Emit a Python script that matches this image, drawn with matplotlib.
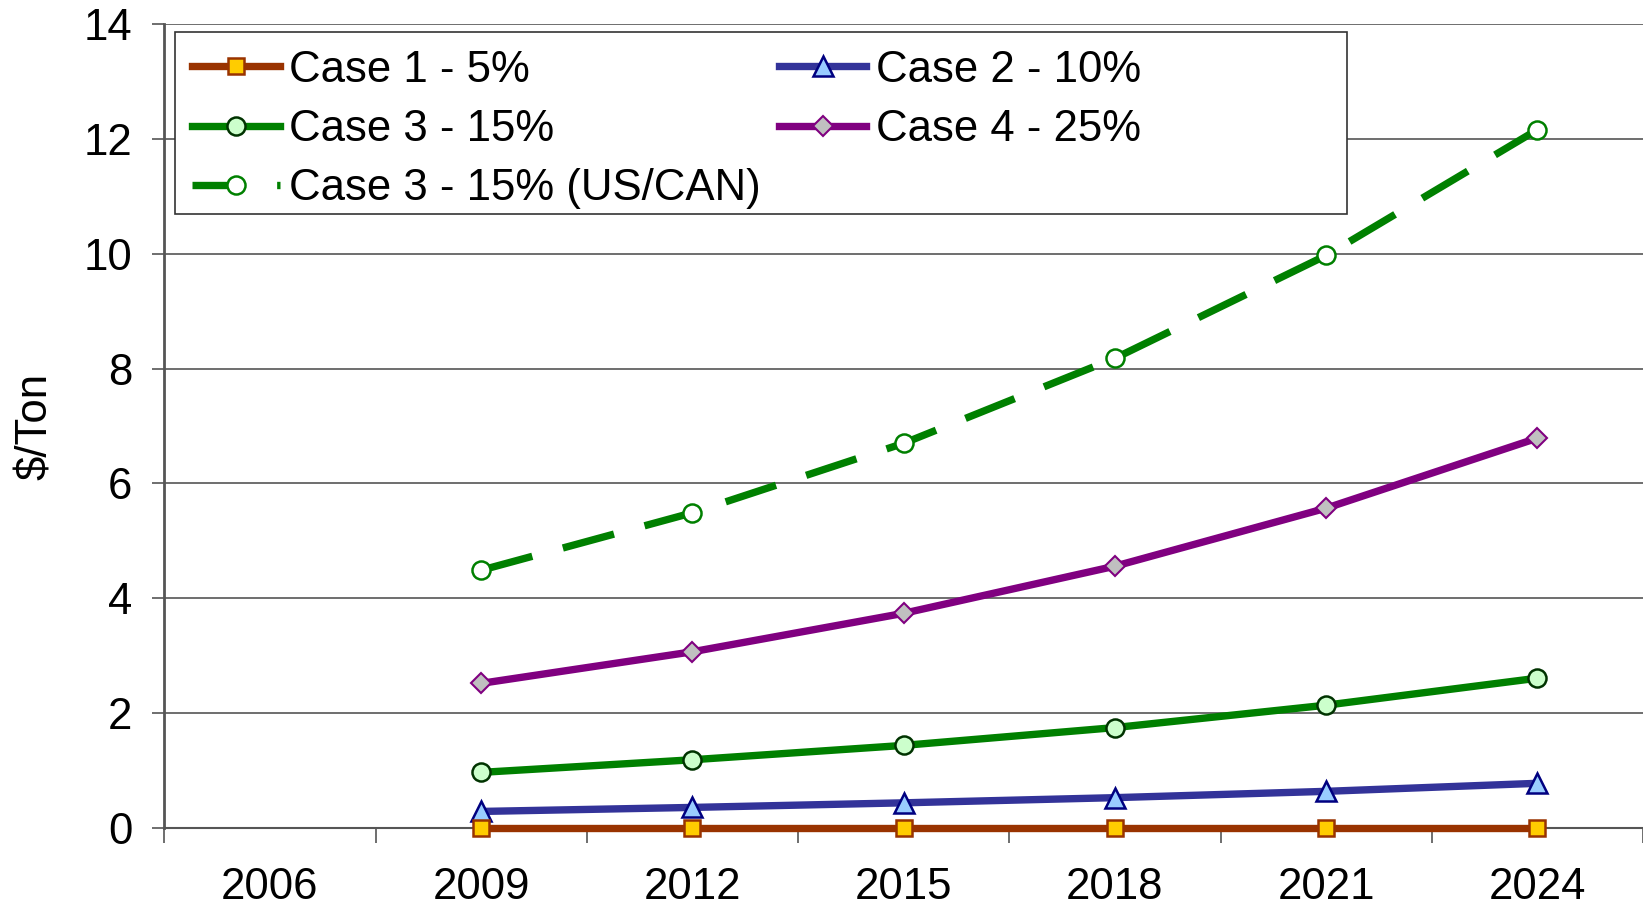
import matplotlib
matplotlib.use("Agg")
from matplotlib import pyplot as plt
from matplotlib.patches import Rectangle
import numpy as np

plt.rcParams['font.family'] = ['Liberation Sans', 'DejaVu Sans']

# category axis, values
years = ["2006", "2009", "2012", "2015", "2018", "2021", "2024"]
data_years = ["2009", "2012", "2015", "2018", "2021", "2024"]

case1 = [0.0, 0.0, 0.0, 0.0, 0.0, 0.0]
case2 = [0.29, 0.36, 0.44, 0.53, 0.64, 0.78]
case3 = [0.97, 1.19, 1.44, 1.75, 2.14, 2.61]
case4 = [2.52, 3.07, 3.74, 4.56, 5.57, 6.79]
case3_uscan = [4.49, 5.49, 6.70, 8.18, 9.97, 12.16]

fs = 31.5

fig = plt.figure(figsize=(16.43, 9.09), dpi=100)
ax = fig.add_axes([0.100, 0.089, 0.900, 0.8846])

x = np.array([years.index(y) for y in data_years])
lw = 5.3
ms = 13

h5, = ax.plot(x, case3_uscan, color='#008000', lw=lw, dashes=(7.2, 4.3),
              dash_capstyle='butt',
              marker='o', ms=ms, mfc='white', mec='#008000', mew=1.8,
              label='Case 3 - 15% (US/CAN)')
h4, = ax.plot(x, case4, color='#800080', lw=lw, marker='D', ms=ms - 3,
              mfc='#C0C0C0', mec='#800080', mew=1.5, label='Case 4 - 25%')
h3, = ax.plot(x, case3, color='#008000', lw=lw, marker='o', ms=ms,
              mfc='#CCFFCC', mec='#003300', mew=1.8, label='Case 3 - 15%')
h2, = ax.plot(x, case2, color='#333399', lw=lw, marker='^', ms=ms + 1,
              mfc='#99CCFF', mec='#000080', mew=1.8, label='Case 2 - 10%')
h1, = ax.plot(x, case1, color='#993300', lw=lw, marker='s', ms=ms - 1,
              mfc='#FFCC00', mec='#993300', mew=1.8, label='Case 1 - 5%',
              clip_on=False, zorder=5)

ax.set_xlim(-0.5, len(years) - 0.5)
ax.set_ylim(0, 14)
ax.set_yticks(range(0, 15, 2))
ax.yaxis.grid(True, color='#555555', lw=1.2)
ax.set_axisbelow(True)

# ticks between categories, labels at the centres
ax.set_xticks(np.arange(-0.5, len(years), 1))
ax.set_xticklabels([])
ax.set_xticks(range(len(years)), minor=True)
ax.set_xticklabels(years, minor=True)
ax.tick_params(axis='x', which='major', length=11, width=1.2, color='#555555')
ax.tick_params(axis='x', which='minor', length=0, pad=28, labelsize=fs)
ax.tick_params(axis='y', length=9, width=1.2, color='#555555', pad=14, labelsize=fs)

for s in ['top', 'right']:
    ax.spines[s].set_visible(False)
ax.spines['left'].set_color('#555555')
ax.spines['left'].set_linewidth(2)
ax.spines['bottom'].set_color('#555555')
ax.spines['bottom'].set_linewidth(1.5)

ax.set_ylabel('$/Ton', fontsize=fs, labelpad=20)

# legend box is wider than its entries, so draw the frame separately
fig.patches.append(Rectangle((0.1065, 0.7646), 0.8199 - 0.1065, 0.9648 - 0.7646,
                             transform=fig.transFigure, fill=True, facecolor='white',
                             edgecolor='#333333', lw=1.2, zorder=3))
leg = fig.legend([h1, h3, h5, h2, h4],
                 ['Case 1 - 5%', 'Case 3 - 15%', 'Case 3 - 15% (US/CAN)',
                  'Case 2 - 10%', 'Case 4 - 25%'],
                 ncol=2, loc='upper left', bbox_to_anchor=(0.1169, 0.9455),
                 fontsize=fs, frameon=False, handlelength=2.0, handletextpad=0.21,
                 labelspacing=0.42, borderpad=0, columnspacing=0.42,
                 borderaxespad=0)
leg.set_zorder(4)

plt.savefig('out.png', dpi=100)
